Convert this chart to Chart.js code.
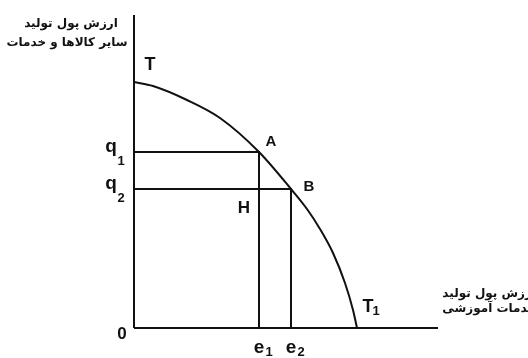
<!DOCTYPE html>
<html>
<head>
<meta charset="utf-8">
<script src="https://cdn.jsdelivr.net/npm/chart.js@4"></script>
<style>
  html, body { margin: 0; padding: 0; background: #fff; }
  #wrap { width: 528px; height: 358px; position: relative; }
</style>
</head>
<body>
<div id="wrap"><canvas id="c" width="528" height="358"></canvas></div>
<script>
// Production possibility curve T–T1 (arbitrary units)
const curveX = [0, 19, 53, 86, 125, 157, 173, 186, 199, 211, 219, 223];
const curveY = [246, 242, 228, 210, 176, 139, 119, 99, 75, 45, 18, 0];
// Axis extents
const axisMaxX = 304;
const axisMaxY = 313;
// Points on the curve
const pointNames = ['A', 'B'];
const pointX = [125, 157];   // e1, e2
const pointY = [176, 139];   // q1, q2
// Tick labels
const yTickLabels = ['q', 'q'];
const yTickSubs = ['1', '2'];
const xTickLabels = ['e', 'e'];
const xTickSubs = ['1', '2'];
// Axis titles
const yTitle = ['ارزش پول تولید', 'سایر کالاها و خدمات'];
const xTitle = ['ارزش پول تولید', 'خدمات آموزشی'];

const ink = '#111';
const lineStyle = { borderColor: ink, borderWidth: 2, pointRadius: 0, showLine: true, fill: false, clip: false };

const datasets = [
  Object.assign({ data: [{x: 0, y: 0}, {x: 0, y: axisMaxY}] }, lineStyle),
  Object.assign({ data: [{x: 0, y: 0}, {x: axisMaxX, y: 0}] }, lineStyle),
  Object.assign({ data: curveX.map((x, i) => ({x, y: curveY[i]})), cubicInterpolationMode: 'monotone' }, lineStyle),
];
pointX.forEach((px, i) => {
  datasets.push(Object.assign({ data: [{x: 0, y: pointY[i]}, {x: px, y: pointY[i]}, {x: px, y: 0}] }, lineStyle));
});

const labelPlugin = {
  id: 'labels',
  afterDraw(chart) {
    const ctx = chart.ctx;
    const xs = chart.scales.x, ys = chart.scales.y;
    ctx.save();
    ctx.fillStyle = ink;
    ctx.textBaseline = 'middle';
    ctx.textAlign = 'center';
    const latin = (px) => 'bold ' + px + 'px "Liberation Sans", Arial, sans-serif';
    // T and T1
    ctx.font = latin(18);
    ctx.fillText('T', xs.getPixelForValue(curveX[0]) + 16, ys.getPixelForValue(curveY[0]) - 17);
    const endX = xs.getPixelForValue(curveX[curveX.length - 1]);
    ctx.fillText('T', endX + 11, ys.getPixelForValue(0) - 21);
    ctx.font = latin(13);
    ctx.fillText('1', endX + 19, ys.getPixelForValue(0) - 17);
    // point names
    ctx.font = latin(15);
    ctx.fillText(pointNames[0], xs.getPixelForValue(pointX[0]) + 12, ys.getPixelForValue(pointY[0]) - 10);
    ctx.fillText(pointNames[1], xs.getPixelForValue(pointX[1]) + 18, ys.getPixelForValue(pointY[1]) - 2);
    ctx.font = latin(17);
    ctx.fillText('H', xs.getPixelForValue(pointX[0]) - 15, ys.getPixelForValue(pointY[1]) + 19);
    // origin
    ctx.font = latin(17);
    ctx.fillText('0', xs.getPixelForValue(0) - 12, ys.getPixelForValue(0) + 6);
    // y tick labels
    pointY.forEach((v, i) => {
      const y = ys.getPixelForValue(v);
      ctx.font = latin(19);
      ctx.fillText(yTickLabels[i], 111, y - 5);
      ctx.font = latin(13);
      ctx.fillText(yTickSubs[i], 121, y + 9);
    });
    // x tick labels
    pointX.forEach((v, i) => {
      const x = xs.getPixelForValue(v);
      ctx.font = latin(19);
      ctx.fillText(xTickLabels[i], x, ys.getPixelForValue(0) + 20);
      ctx.font = latin(13);
      ctx.fillText(xTickSubs[i], x + 10, ys.getPixelForValue(0) + 24);
    });
    // Persian axis titles
    ctx.font = 'bold 12px "DejaVu Sans", sans-serif';
    ctx.fillText(yTitle[0], 71, 24);
    ctx.fillText(yTitle[1], 67, 43);
    ctx.textAlign = 'right';
    ctx.fillText(xTitle[0], 536, 294);
    ctx.fillText(xTitle[1], 536, 309);
    ctx.restore();
  }
};

new Chart(document.getElementById('c'), {
  type: 'scatter',
  data: { datasets },
  options: {
    responsive: false,
    animation: false,
    layout: { padding: { left: 134, top: 15, right: 90, bottom: 30 } },
    scales: {
      x: { type: 'linear', min: 0, max: axisMaxX, display: false },
      y: { type: 'linear', min: 0, max: axisMaxY, display: false }
    },
    plugins: { legend: { display: false }, tooltip: { enabled: false } }
  },
  plugins: [labelPlugin]
});
</script>
</body>
</html>
